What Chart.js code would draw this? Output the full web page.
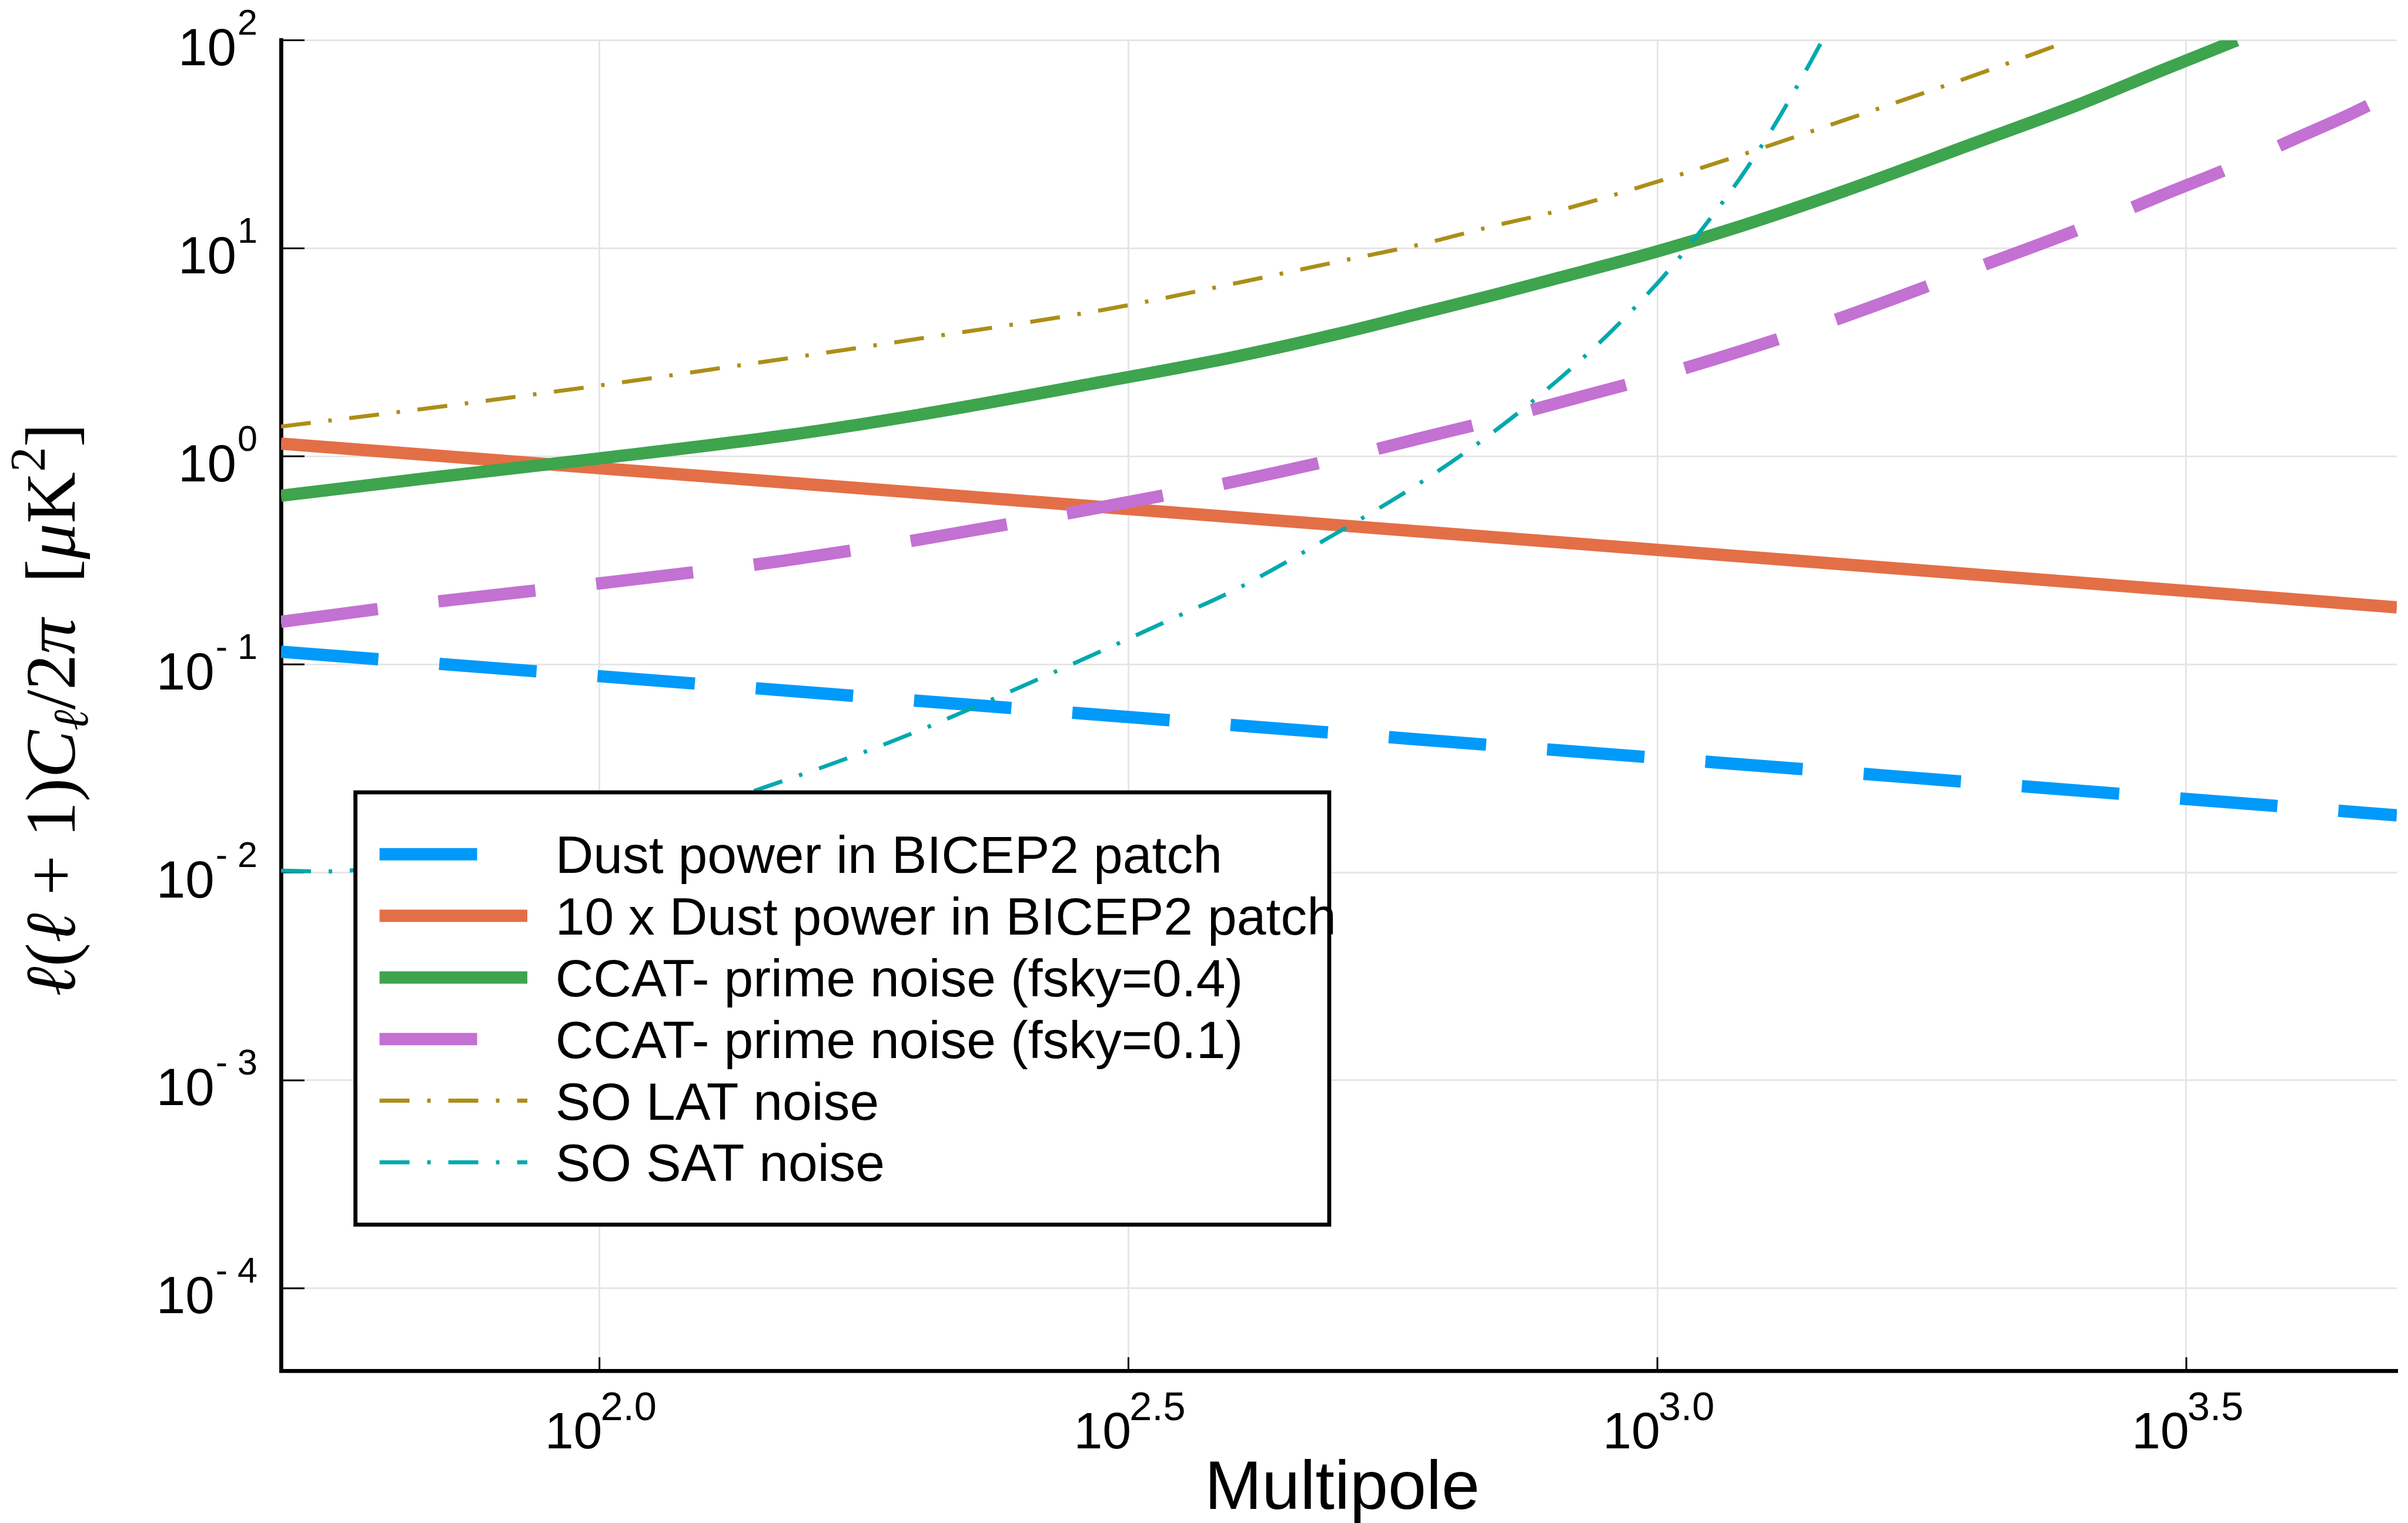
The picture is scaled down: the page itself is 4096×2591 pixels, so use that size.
<!DOCTYPE html>
<html>
<head>
<meta charset="UTF-8" />
<title>Dust power and noise spectra</title>
<script src="https://cdn.jsdelivr.net/npm/chart.js@4"></script>
<style>
html, body { margin:0; padding:0; background:#fff; }
canvas { display:block; }
</style>
</head>
<body>
<canvas id="chart" width="4096" height="2591"></canvas>
<script>
// multipole ell and l(l+1)C_l/2pi in muK^2 for each curve
const dustEll = [50, 100, 200, 500, 1000, 2000, 5000];
const dust = [0.115, 0.0877, 0.0668, 0.0466, 0.0355, 0.0270, 0.0188];
const dustTimes10 = [1.15, 0.877, 0.668, 0.466, 0.355, 0.270, 0.188];

const ccatWideEll = [50, 70, 100, 150, 200, 300, 400, 500, 600, 700, 800, 1000, 1200, 1500, 2000, 2500, 3000, 3530];
const ccatWide = [0.646, 0.794, 0.977, 1.26, 1.58, 2.29, 3.02, 3.89, 4.90, 5.96, 7.13, 9.66, 12.8, 18.8, 32.2, 49.0, 71.8, 100];

const ccatDeepEll = [50, 70, 100, 150, 200, 300, 400, 500, 600, 700, 800, 1000, 1200, 1500, 2000, 2500, 3000, 3500, 4000, 4500, 5000];
const ccatDeep = [0.160, 0.20, 0.245, 0.316, 0.397, 0.573, 0.76, 0.977, 1.23, 1.49, 1.79, 2.43, 3.21, 4.68, 8.04, 12.3, 18.0, 24.7, 33.5, 43.7, 56.9];

const latEll = [50, 70, 100, 150, 200, 300, 400, 500, 600, 700, 800, 1000, 1200, 1500, 2000, 2450];
const lat = [1.39, 1.72, 2.19, 2.95, 3.67, 5.07, 6.8, 8.65, 10.5, 12.8, 15.0, 20.9, 28.1, 41.2, 68.2, 99.3];

const satEll = [50, 55, 70, 100, 125, 150, 175, 200, 250, 300, 350, 400, 500, 600, 700, 800, 900, 1000, 1050, 1100, 1150, 1200, 1250, 1300, 1350, 1400, 1435];
const sat = [0.0102, 0.0101, 0.0115, 0.0158, 0.0205, 0.0278, 0.0367, 0.0478, 0.0778, 0.1175, 0.168, 0.230, 0.434, 0.759, 1.31, 2.26, 3.89, 6.79, 9.06, 12.2, 16.4, 22.1, 30.2, 41.6, 58.0, 80.9, 102];

const seriesNames = [
  'Dust power in BICEP2 patch',
  '10 x Dust power in BICEP2 patch',
  'CCAT- prime noise (fsky=0.4)',
  'CCAT- prime noise (fsky=0.1)',
  'SO LAT noise',
  'SO SAT noise'
];
const seriesColors = ['#009AFA', '#E36F47', '#3EA44E', '#C371D2', '#AC8E18', '#00A9AD'];

const xTickExp = ['2.0', '2.5', '3.0', '3.5'];
const yTickExp = [-4, -3, -2, -1, 0, 1, 2];

// line styles
const DASH = [166, 104];
const DASHDOT = [51, 30, 6, 30];
const THICK = 21;
const THIN = 6.8;
const lineStyle = [
  { w: THICK, dash: DASH },
  { w: THICK, dash: [] },
  { w: THICK, dash: [] },
  { w: THICK, dash: DASH },
  { w: THIN, dash: DASHDOT },
  { w: THIN, dash: DASHDOT }
];

const pts = (xs, ys) => xs.map((v, i) => ({ x: v, y: ys[i] }));
const curves = [
  pts(dustEll, dust),
  pts(dustEll, dustTimes10),
  pts(ccatWideEll, ccatWide),
  pts(ccatDeepEll, ccatDeep),
  pts(latEll, lat),
  pts(satEll, sat)
];

const SANS = '"Liberation Sans", Arial, Helvetica, sans-serif';
const SERIF = '"Liberation Serif", "DejaVu Serif", serif';

// tick marks point into the plot, labels are 10^x with superscripts
const axisDecor = {
  id: 'axisDecor',
  beforeDatasetsDraw(chart) {
    const { ctx, chartArea: a, scales: { x, y } } = chart;
    ctx.save();
    ctx.strokeStyle = '#000';
    ctx.lineWidth = 3;
    ctx.beginPath();
    yTickExp.forEach(e => {
      const py = y.getPixelForValue(Math.pow(10, e));
      ctx.moveTo(a.left, py);
      ctx.lineTo(a.left + 40, py);
    });
    xTickExp.forEach(e => {
      const px = x.getPixelForValue(Math.pow(10, parseFloat(e)));
      ctx.moveTo(px, a.bottom);
      ctx.lineTo(px, a.bottom - 23);
    });
    ctx.stroke();
    ctx.restore();
  },
  afterDraw(chart) {
    const { ctx, chartArea: a, scales: { x, y } } = chart;
    ctx.save();
    ctx.fillStyle = '#000';
    ctx.textBaseline = 'alphabetic';

    // y tick labels
    ctx.textAlign = 'right';
    yTickExp.forEach(e => {
      const py = y.getPixelForValue(Math.pow(10, e));
      const sup = e < 0 ? '- ' + (-e) : String(e);
      ctx.font = '61px ' + SANS;
      const supW = ctx.measureText(sup).width;
      ctx.fillText(sup, 438, py + 42.5 - 52);
      ctx.font = '89px ' + SANS;
      ctx.fillText('10', 438 - supW - 2, py + 42.5);
    });

    // x tick labels
    ctx.textAlign = 'left';
    const overlap = 3;
    xTickExp.forEach(e => {
      const px = x.getPixelForValue(Math.pow(10, parseFloat(e)));
      ctx.font = '88px ' + SANS;
      const w1 = ctx.measureText('10').width;
      ctx.font = '68.5px ' + SANS;
      const w2 = ctx.measureText(e).width;
      const start = px - (w1 + w2 - overlap) / 2 + 2;
      ctx.font = '88px ' + SANS;
      ctx.fillText('10', start, a.bottom + 131.6);
      ctx.font = '68.5px ' + SANS;
      ctx.fillText(e, start + w1 - overlap, a.bottom + 84.4);
    });

    // x title
    ctx.textAlign = 'center';
    ctx.font = '117px ' + SANS;
    ctx.fillText('Multipole', (a.left + a.right) / 2 + 5.5, a.bottom + 235);

    // y title, rotated, LaTeX-like pieces
    const parts = [
      ['\u2113', 'it'], ['(', 'rm'], ['\u2113', 'it'], [' + ', 'rm'], ['1)', 'rm'],
      ['C', 'it'], ['\u2113', 'sub'], ['/2', 'rm'], ['\u03c0', 'it'], ['  [', 'rm'],
      ['\u03bc', 'it'], ['K', 'rm'], ['2', 'sup'], [']', 'rm']
    ];
    const fontFor = (kind, s) => {
      if (kind === 'it') return 'italic ' + s + 'px ' + SERIF;
      if (kind === 'sub') return 'italic ' + (s * 0.7) + 'px ' + SERIF;
      if (kind === 'sup') return (s * 0.7) + 'px ' + SERIF;
      return s + 'px ' + SERIF;
    };
    const widthAt = s => parts.reduce((acc, p) => { ctx.font = fontFor(p[1], s); return acc + ctx.measureText(p[0]).width; }, 0);
    const size = 100 * 975 / widthAt(100);
    const total = widthAt(size);
    ctx.translate(127.4, 1207.5);
    ctx.rotate(-Math.PI / 2);
    ctx.textAlign = 'left';
    let cx = -total / 2;
    parts.forEach(p => {
      ctx.font = fontFor(p[1], size);
      let dy = 0;
      if (p[1] === 'sub') dy = size * 0.18;
      if (p[1] === 'sup') dy = -size * 0.42;
      ctx.fillText(p[0], cx, dy);
      cx += ctx.measureText(p[0]).width;
    });
    ctx.restore();
  }
};

// boxed legend inside the plot, drawn over the curves
const legendBox = {
  id: 'legendBox',
  afterDatasetsDraw(chart) {
    const ctx = chart.ctx;
    const L = 604.6, T = 1348, R = 2261, B = 2083.4;
    ctx.save();
    ctx.fillStyle = '#fff';
    ctx.fillRect(L, T, R - L, B - T);
    ctx.lineWidth = 6.8;
    ctx.strokeStyle = '#000';
    ctx.setLineDash([]);
    ctx.strokeRect(L, T, R - L, B - T);
    chart.data.datasets.forEach((ds, i) => {
      const ry = 1453.3 + i * 104.8;
      ctx.strokeStyle = ds.borderColor;
      ctx.lineWidth = ds.borderWidth;
      ctx.lineCap = 'butt';
      ctx.setLineDash(ds.borderDash);
      ctx.beginPath();
      ctx.moveTo(645.6, ry);
      ctx.lineTo(897, ry);
      ctx.stroke();
      ctx.setLineDash([]);
      ctx.fillStyle = '#000';
      ctx.font = '89.5px ' + SANS;
      ctx.textAlign = 'left';
      ctx.textBaseline = 'alphabetic';
      ctx.fillText(ds.label, 944.7, ry + 32);
    });
    ctx.restore();
  }
};

new Chart(document.getElementById('chart'), {
  type: 'line',
  data: {
    datasets: curves.map((d, i) => ({
      label: seriesNames[i],
      data: d,
      borderColor: seriesColors[i],
      borderWidth: lineStyle[i].w,
      borderDash: lineStyle[i].dash,
      pointRadius: 0,
      cubicInterpolationMode: 'monotone',
      fill: false,
      order: 6 - i
    }))
  },
  options: {
    responsive: false,
    animation: false,
    devicePixelRatio: 1,
    layout: { padding: { left: 478, right: 19, top: 68.5, bottom: 259 } },
    plugins: { legend: { display: false }, tooltip: { enabled: false } },
    scales: {
      x: {
        type: 'logarithmic',
        min: 50,
        max: 5000,
        afterBuildTicks: s => { s.ticks = xTickExp.map(e => ({ value: Math.pow(10, parseFloat(e)) })); },
        ticks: { display: false },
        grid: { color: '#e6e6e6', lineWidth: 3, drawTicks: false },
        border: { display: true, color: '#000', width: 6.8 }
      },
      y: {
        type: 'logarithmic',
        min: Math.pow(10, -4.396),
        max: 100,
        afterBuildTicks: s => { s.ticks = yTickExp.map(e => ({ value: Math.pow(10, e) })); },
        ticks: { display: false },
        grid: { color: '#e6e6e6', lineWidth: 3, drawTicks: false },
        border: { display: true, color: '#000', width: 6.8 }
      }
    }
  },
  plugins: [axisDecor, legendBox]
});
</script>
</body>
</html>
